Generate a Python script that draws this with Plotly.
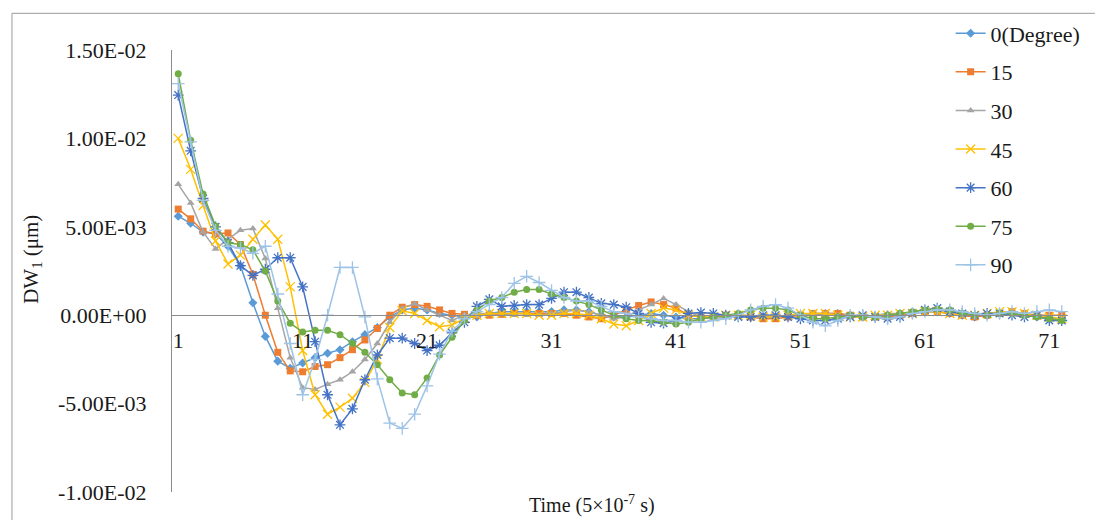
import numpy as np
import plotly.graph_objects as go

# Time steps (units of 5e-7 s) and axis ticks
time_steps = list(range(1, 73))
x_ticks = [1, 11, 21, 31, 41, 51, 61, 71]
y_ticks = [-1.0e-2, -5.0e-3, 0.0, 5.0e-3, 1.0e-2, 1.5e-2]
y_tick_labels = ["-1.00E-02", "-5.00E-03", "0.00E+00", "5.00E-03", "1.00E-02", "1.50E-02"]

# DW1 per loading angle, in units of 1e-3 um
dw_0 = [5.6, 5.2, 4.7, 4.6, 3.9, 2.8, 0.7, -1.2, -2.6, -3.0,
        -2.7, -2.4, -2.15, -1.95, -1.5, -1.1, -0.7, -0.1, 0.3, 0.4,
        0.3, 0.1, 0.0, -0.1, -0.1, 0.1, 0.2, 0.2, 0.2, 0.2,
        0.2, 0.3, 0.3, 0.2, 0.0, -0.1, -0.1, 0.0, 0.1, 0.0,
        -0.1, -0.2, -0.2, -0.1, 0.0, 0.0, -0.1, -0.1, -0.1, 0.0,
        0.0, 0.0, 0.1, 0.1, 0.0, -0.1, -0.1, 0.0, 0.1, 0.1,
        0.2, 0.2, 0.1, 0.0, -0.1, 0.0, 0.1, 0.1, 0.0, -0.1,
        -0.2, -0.2]
dw_15 = [6.0, 5.45, 4.75, 4.6, 4.65, 4.0, 2.3, 0.0, -2.1, -3.15,
         -3.2, -2.9, -2.8, -2.4, -1.95, -1.4, -0.75, 0.0, 0.45, 0.6,
         0.5, 0.3, 0.1, 0.05, 0.0, 0.0, 0.05, 0.1, 0.1, 0.1,
         0.1, 0.1, 0.0, -0.1, -0.2, 0.0, 0.3, 0.55, 0.75, 0.6,
         0.4, 0.0, -0.1, -0.1, 0.0, 0.0, -0.1, -0.2, -0.2, -0.1,
         0.0, 0.1, 0.1, 0.1, 0.0, -0.1, -0.1, -0.1, 0.0, 0.1,
         0.2, 0.2, 0.1, 0.0, -0.1, 0.0, 0.1, 0.2, 0.1, 0.0,
         0.0, 0.0]
dw_30 = [7.4, 6.35, 4.7, 3.75, 4.3, 4.8, 4.9, 3.2, 0.4, -2.4,
         -4.1, -4.2, -3.9, -3.65, -3.2, -2.5, -1.6, -0.4, 0.4, 0.65,
         0.3, 0.0, -0.3, 0.0, 0.1, 0.1, 0.1, 0.0, 0.0, 0.0,
         0.1, 0.2, 0.3, 0.2, 0.0, -0.2, -0.1, 0.3, 0.6, 0.95,
         0.6, 0.2, -0.1, -0.2, -0.1, 0.0, -0.1, -0.1, -0.1, 0.0,
         0.0, 0.1, 0.1, 0.0, -0.1, -0.1, 0.0, 0.1, 0.1, 0.2,
         0.3, 0.3, 0.2, 0.1, 0.0, 0.0, 0.1, 0.1, 0.0, -0.1,
         -0.2, -0.3]
dw_45 = [10.0, 8.25, 6.2, 4.2, 2.9, 3.4, 4.3, 5.1, 4.3, 1.6,
         -2.0, -4.5, -5.6, -5.2, -4.7, -3.8, -2.5, -0.7, 0.25, 0.1,
         -0.3, -0.65, -0.55, -0.2, 0.0, 0.1, 0.1, 0.1, 0.1, 0.0,
         0.0, 0.1, 0.1, 0.0, -0.2, -0.5, -0.6, -0.3, 0.1, 0.4,
         0.3, 0.0, -0.1, -0.1, 0.0, 0.0, 0.0, -0.1, -0.1, 0.0,
         0.1, 0.1, 0.1, 0.0, -0.1, -0.1, 0.0, 0.0, 0.1, 0.1,
         0.2, 0.2, 0.1, 0.0, 0.0, 0.1, 0.2, 0.2, 0.1, 0.0,
         -0.1, -0.2]
dw_60 = [12.45, 9.3, 6.6, 5.0, 4.1, 2.8, 2.25, 2.6, 3.25, 3.25,
         1.6, -1.5, -4.5, -6.2, -5.3, -3.65, -2.25, -1.3, -1.3, -1.6,
         -2.0, -1.7, -1.0, -0.4, 0.5, 0.9, 0.5, 0.55, 0.6, 0.6,
         0.95, 1.3, 1.3, 1.0, 0.67, 0.6, 0.45, 0.1, -0.4, -0.45,
         -0.3, 0.1, 0.15, 0.1, 0.0, -0.1, -0.1, 0.0, 0.0, -0.1,
         -0.2, -0.3, -0.3, -0.2, -0.1, 0.0, -0.1, -0.2, -0.1, 0.1,
         0.3, 0.4, 0.2, 0.1, 0.0, 0.1, 0.1, 0.0, -0.1, 0.0,
         -0.3, -0.3]
dw_75 = [13.65, 9.9, 6.85, 5.05, 4.1, 4.0, 3.7, 2.5, 0.8, -0.45,
         -0.95, -0.85, -0.85, -1.1, -1.6, -2.1, -2.8, -3.65, -4.4, -4.5,
         -3.55, -2.25, -1.25, -0.3, 0.3, 0.8, 1.0, 1.3, 1.45, 1.45,
         1.2, 1.0, 0.8, 0.6, 0.3, 0.0, -0.2, -0.3, -0.3, -0.4,
         -0.5, -0.4, -0.2, -0.1, 0.0, 0.1, 0.3, 0.4, 0.4, 0.3,
         0.0, -0.2, -0.2, -0.1, 0.0, -0.1, -0.1, 0.0, 0.1, 0.2,
         0.3, 0.35, 0.3, 0.1, 0.0, 0.0, 0.1, 0.1, 0.0, -0.1,
         -0.2, -0.3]
dw_90 = [13.1, 9.8, 6.5, 4.8, 3.9, 3.8, 3.5, 3.9, 1.2, -1.6,
         -4.5, -2.5, 0.0, 2.7, 2.7, -0.1, -3.6, -6.1, -6.4, -5.6,
         -4.0, -2.2, -0.9, -0.2, 0.2, 0.6, 1.0, 1.8, 2.2, 1.85,
         1.4, 1.0, 0.8, 0.8, 0.5, 0.2, 0.1, -0.1, -0.2, -0.3,
         -0.3, -0.4, -0.4, -0.3, -0.2, 0.0, 0.3, 0.5, 0.6, 0.4,
         0.0, -0.4, -0.6, -0.3, 0.0, 0.0, -0.1, -0.2, -0.1, 0.1,
         0.2, 0.3, 0.3, 0.2, 0.1, 0.0, 0.1, 0.2, 0.1, 0.2,
         0.3, 0.2]

series_names = ["0(Degree)", "15", "30", "45", "60", "75", "90"]
series_values = [dw_0, dw_15, dw_30, dw_45, dw_60, dw_75, dw_90]
series_colors = ["#5B9BD5", "#ED7D31", "#A5A5A5", "#FFC000", "#4472C4", "#70AD47", "#9DC3E6"]
series_symbols = ["diamond", "square", "triangle-up", "x-thin-open",
                  "asterisk-open", "circle", "cross-thin-open"]

FONT = "Liberation Serif, Times New Roman, serif"
TEXT = "#1a1a1a"
AXIS = "#8c8c8c"

fig = go.Figure()
for name, vals, color, sym in zip(series_names, series_values, series_colors, series_symbols):
    thin = sym.endswith("-open")
    fig.add_trace(go.Scatter(
        x=time_steps,
        y=np.array(vals) * 1e-3,
        name=name,
        legendgroup=name,
        mode="lines+markers",
        line=dict(color=color, width=1.5),
        marker=dict(symbol=sym, color=color, size=9 if thin else 7,
                    line=dict(color=color, width=1.3 if thin else 0)),
    ))

fig.update_layout(
    width=1098,
    height=520,
    margin=dict(l=172, r=19, t=47, b=28),
    paper_bgcolor="white",
    plot_bgcolor="white",
    font=dict(family=FONT, size=21, color=TEXT),
    showlegend=True,
    legend=dict(
        x=0.869, y=1.085, xanchor="left", yanchor="top",
        font=dict(family=FONT, size=22, color=TEXT),
        bgcolor="rgba(0,0,0,0)",
        tracegroupgap=7,
        itemwidth=30,
        maxheight=500,
    ),
    xaxis=dict(
        range=[0.5, 72.5],
        tickmode="array",
        tickvals=x_ticks,
        ticktext=[str(t) for t in x_ticks],
        showgrid=False,
        zeroline=False,
        showline=True,
        linecolor=AXIS,
        linewidth=1,
        anchor="free",
        position=0.4,
        ticks="",
        ticklabelstandoff=5,
        tickfont=dict(family=FONT, size=22, color=TEXT),
    ),
    yaxis=dict(
        range=[-0.01, 0.015],
        tickmode="array",
        tickvals=y_ticks,
        ticktext=y_tick_labels,
        showgrid=False,
        zeroline=False,
        showline=True,
        linecolor=AXIS,
        linewidth=1,
        ticks="",
        ticklabelstandoff=20,
        tickfont=dict(family=FONT, size=22, color=TEXT),
    ),
    annotations=[
        dict(text="Time (5\u00d710<sup>-7</sup> s)", xref="paper", yref="paper",
             x=0.469, y=-0.029, xanchor="center", yanchor="middle",
             showarrow=False, font=dict(family=FONT, size=20, color=TEXT)),
        dict(text="DW<sub>1</sub> (\u03bcm)", xref="paper", yref="paper",
             x=-0.157, y=0.526, xanchor="center", yanchor="middle",
             textangle=-90, showarrow=False,
             font=dict(family=FONT, size=21, color=TEXT)),
    ],
    shapes=[
        # outer chart-area frame (left and top edges)
        dict(type="line", xref="paper", yref="paper",
             x0=-0.1786, y0=-0.07, x1=-0.1786, y1=1.083,
             line=dict(color="#9a9a9a", width=1)),
        dict(type="line", xref="paper", yref="paper",
             x0=-0.1786, y0=1.083, x1=1.03, y1=1.083,
             line=dict(color="#9a9a9a", width=1)),
    ],
)

fig.write_html("out.html")
